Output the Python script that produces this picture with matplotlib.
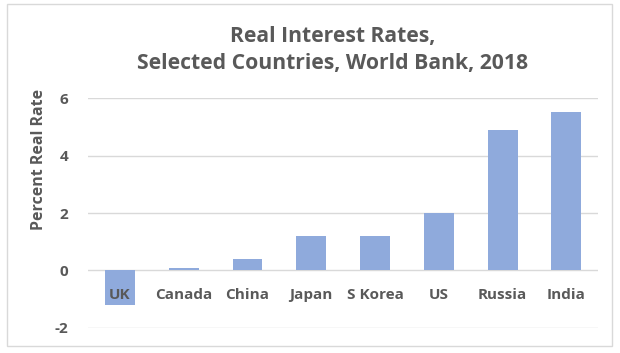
import matplotlib.pyplot as plt
from matplotlib.patches import Rectangle

countries = ['UK', 'Canada', 'China', 'Japan', 'S Korea', 'US', 'Russia', 'India']
real_rate = [-1.2, 0.1, 0.4, 1.2, 1.2, 2.0, 4.9, 5.5]
y_ticks = [-2, 0, 2, 4, 6]

grey = '#595959'
bar_color = '#8faadc'
plt.rcParams['font.family'] = ['Open Sans', 'DejaVu Sans']

fig = plt.figure(figsize=(6.2, 3.53), dpi=100)
ax = fig.add_axes([0.142, 0.071, 0.823, 0.651])

x = range(len(countries))
ax.bar(x, real_rate, width=0.47, color=bar_color, zorder=3)

ax.set_ylim(-2, 6)
ax.set_xlim(-0.5, len(countries) - 0.5)
ax.set_yticks(y_ticks)
ax.set_yticklabels([str(t) for t in y_ticks], fontsize=11, fontweight='bold', color=grey)
ax.tick_params(axis='y', length=0, pad=14)
ax.set_xticks([])
ax.grid(axis='y', color='#d9d9d9', linewidth=1, zorder=0)
for s in ax.spines.values():
    s.set_visible(False)

# category labels sit just below the zero line, like Excel does
for i, name in enumerate(countries):
    ax.annotate(name, (i, 0), xytext=(0, -18), textcoords='offset points',
                ha='center', va='center', fontsize=11, fontweight='bold', color=grey)

fig.text(0.063, 0.547, 'Percent Real Rate', rotation=90, ha='center', va='center',
         fontsize=11.5, fontweight='bold', color=grey)
fig.text(0.537, 0.858, 'Real Interest Rates,\nSelected Countries, World Bank, 2018',
         ha='center', va='center', fontsize=15.2, fontweight='bold', color=grey,
         linespacing=1.4)

fig.patches.append(Rectangle((0.011, 0.02), 0.976, 0.97, transform=fig.transFigure,
                             fill=False, edgecolor='#d9d9d9', linewidth=1))

fig.savefig('out.png', dpi=100)
